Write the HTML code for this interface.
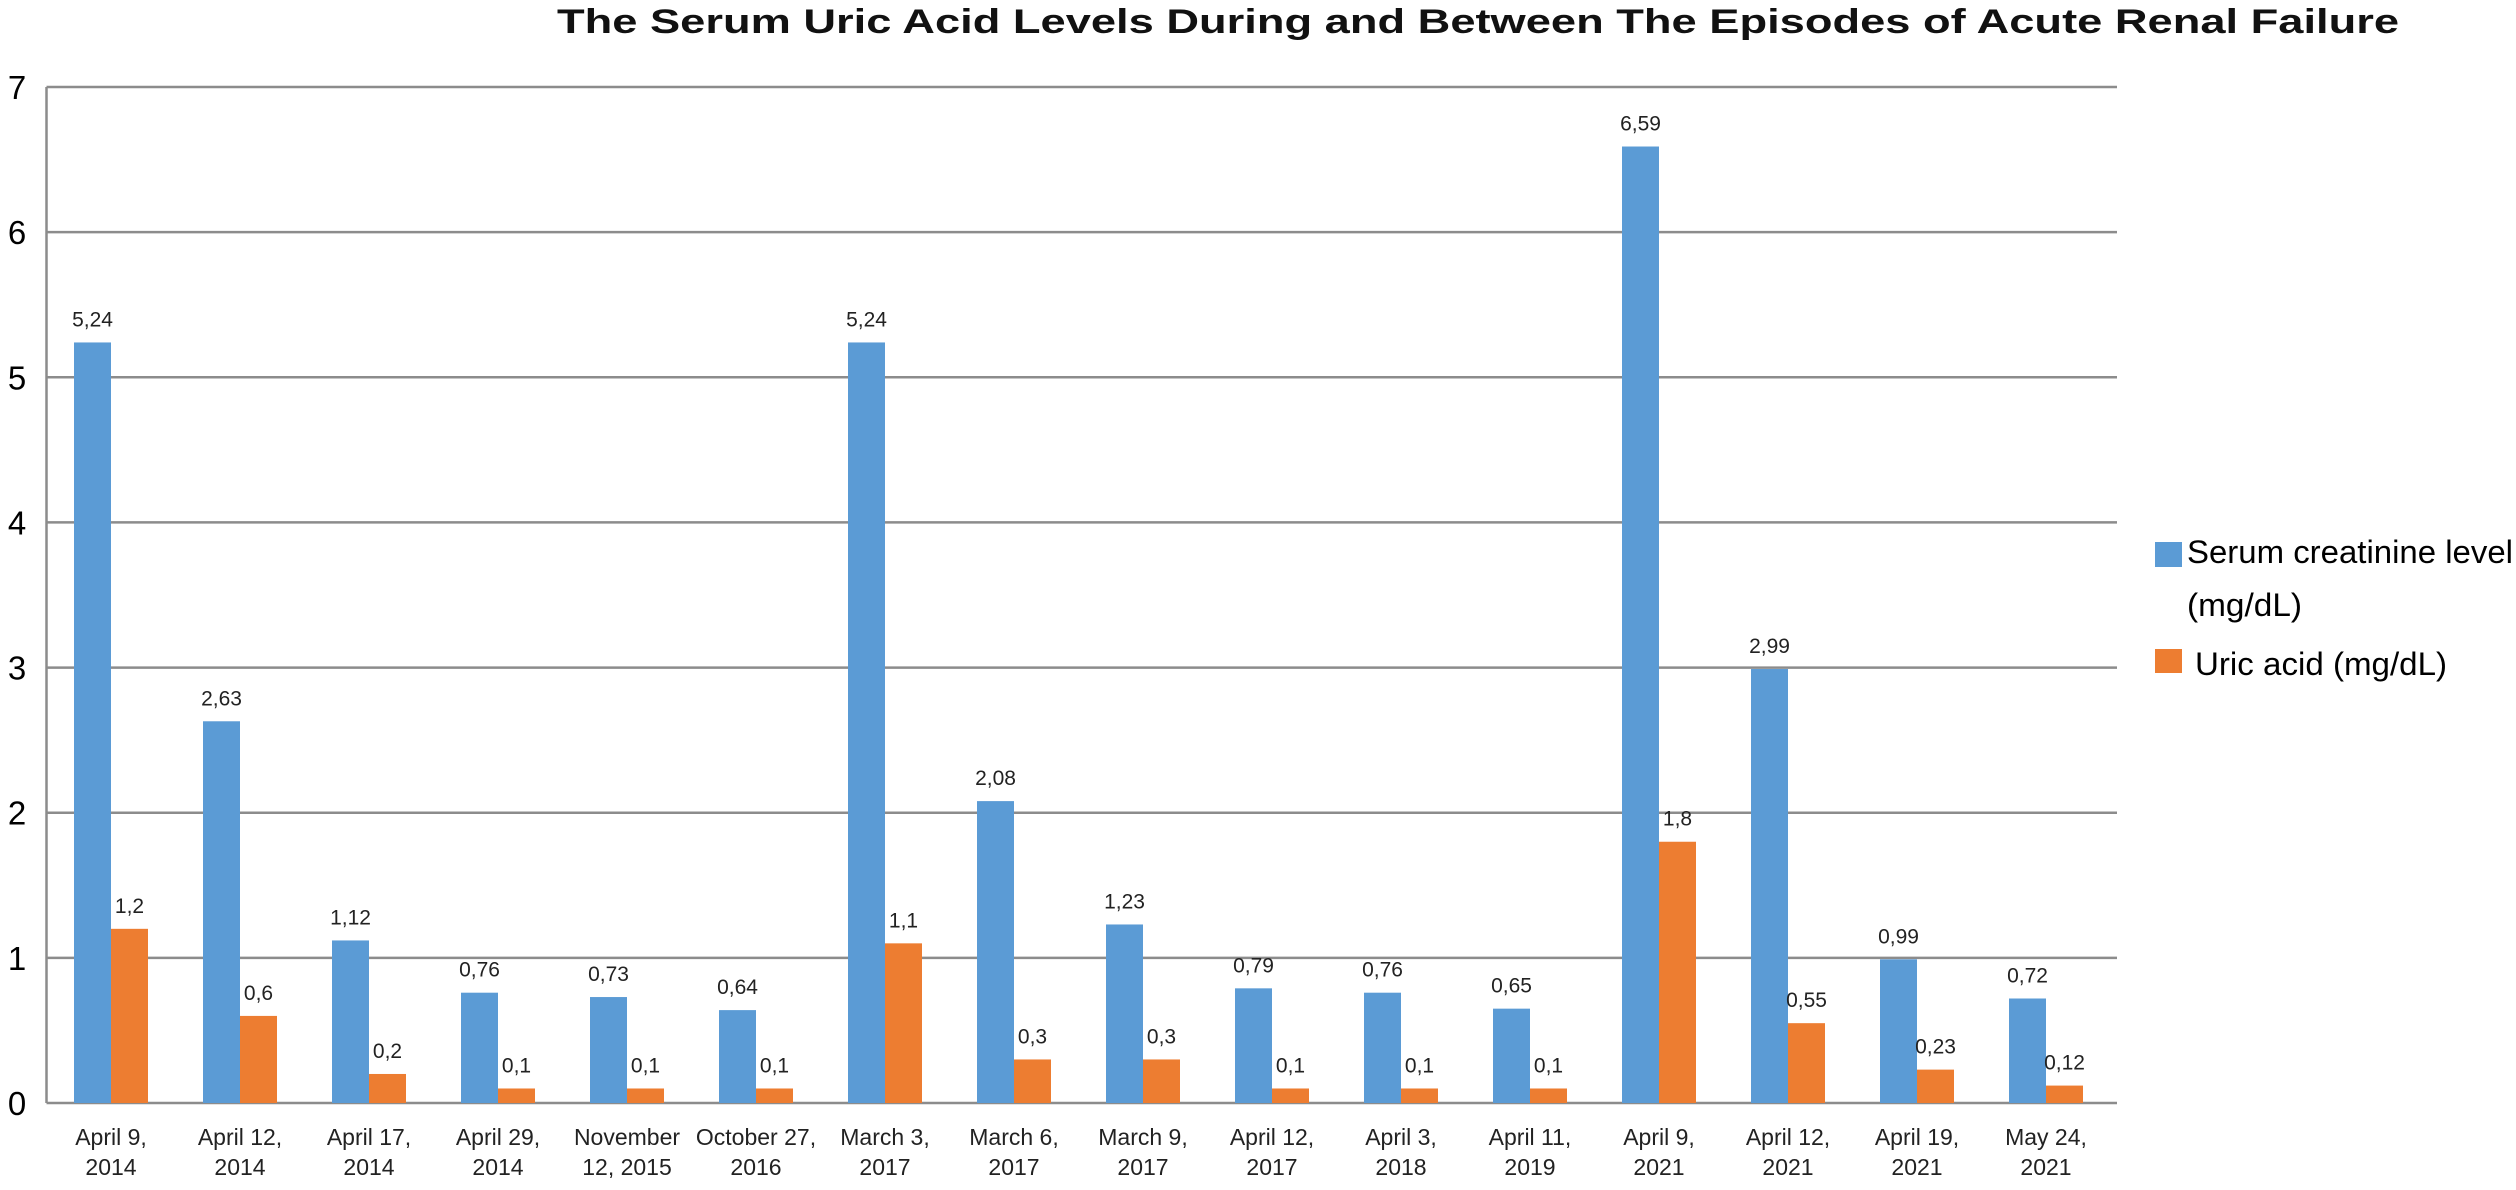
<!DOCTYPE html>
<html><head><meta charset="utf-8"><style>
html,body{margin:0;padding:0;background:#fff;width:2516px;height:1190px;overflow:hidden}
svg{display:block;font-family:"Liberation Sans",sans-serif}
</style></head><body>
<svg id="chart" width="2516" height="1190" viewBox="0 0 2516 1190" xmlns="http://www.w3.org/2000/svg">
<text x="1478" y="33" text-anchor="middle" font-size="34" font-weight="bold" textLength="1842" lengthAdjust="spacingAndGlyphs" fill="#111">The Serum Uric Acid Levels During and Between The Episodes of Acute Renal Failure</text>
<g id="grid"></g><g id="bars"></g><g id="labels"></g>
<g>
<rect x="2155" y="542" width="27" height="25" fill="#5b9bd5"/>
<text x="2187" y="563" font-size="32" textLength="326" lengthAdjust="spacingAndGlyphs">Serum creatinine level</text>
<text x="2187" y="616" font-size="32" textLength="115" lengthAdjust="spacingAndGlyphs">(mg/dL)</text>
<rect x="2155" y="649" width="27" height="24" fill="#ed7d31"/>
<text x="2195" y="675" font-size="32" textLength="252" lengthAdjust="spacingAndGlyphs">Uric acid (mg/dL)</text>
</g>
</svg>
<script>
const categories=[["April 9,","2014"],["April 12,","2014"],["April 17,","2014"],["April 29,","2014"],["November","12, 2015"],["October 27,","2016"],["March 3,","2017"],["March 6,","2017"],["March 9,","2017"],["April 12,","2017"],["April 3,","2018"],["April 11,","2019"],["April 9,","2021"],["April 12,","2021"],["April 19,","2021"],["May 24,","2021"]];
const creatinine=[5.24,2.63,1.12,0.76,0.73,0.64,5.24,2.08,1.23,0.79,0.76,0.65,6.59,2.99,0.99,0.72];
const uricAcid=[1.2,0.6,0.2,0.1,0.1,0.1,1.1,0.3,0.3,0.1,0.1,0.1,1.8,0.55,0.23,0.12];
const yTicks=[0,1,2,3,4,5,6,7];
const NS="http://www.w3.org/2000/svg";
const L=46.5,R=2117,Y0=1103,Y7=87,catW=129,barW=37;
const y=v=>Y0-(Y0-Y7)*v/7;
const xc=i=>L+catW*(i+0.5);
function mk(t,a,p){const e=document.createElementNS(NS,t);for(const k in a)e.setAttribute(k,a[k]);p.appendChild(e);return e;}
const grid=document.getElementById('grid'),bars=document.getElementById('bars'),labs=document.getElementById('labels');
yTicks.forEach(v=>{
 const ln=mk('line',{x1:L,x2:R,y1:y(v),y2:y(v),stroke:'#8c8c8c','stroke-width':2.5},grid);
 
 
 const t=mk('text',{x:17,y:y(v)+12,'text-anchor':'middle','font-size':33,fill:'#000'},grid);
 t.textContent=v;
 
 
});
const ax=mk('line',{x1:L,x2:L,y1:Y7,y2:Y0,stroke:'#8c8c8c','stroke-width':2.5},grid);


const fmt=v=>String(v).replace('.',',');
categories.forEach((c,i)=>{
 const cx=xc(i);
 [[creatinine[i],'#5b9bd5',cx-barW,'creatinine'],[uricAcid[i],'#ed7d31',cx,'uric-acid']].forEach(([v,col,x0,nm])=>{
  const r=mk('rect',{x:x0,y:y(v),width:barW,height:Y0-y(v),fill:col},bars);
  
  
  const t=mk('text',{x:x0+barW/2,y:y(v)-16,'text-anchor':'middle','font-size':21,fill:'#222'},labs);
  t.textContent=fmt(v);
  
  
 });
 c.forEach((s,j)=>{
  const t=mk('text',{x:cx,y:1145+j*30,'text-anchor':'middle','font-size':23,fill:'#222'},labs);
  t.textContent=s;
  
  
 });
});
</script>
</body></html>
